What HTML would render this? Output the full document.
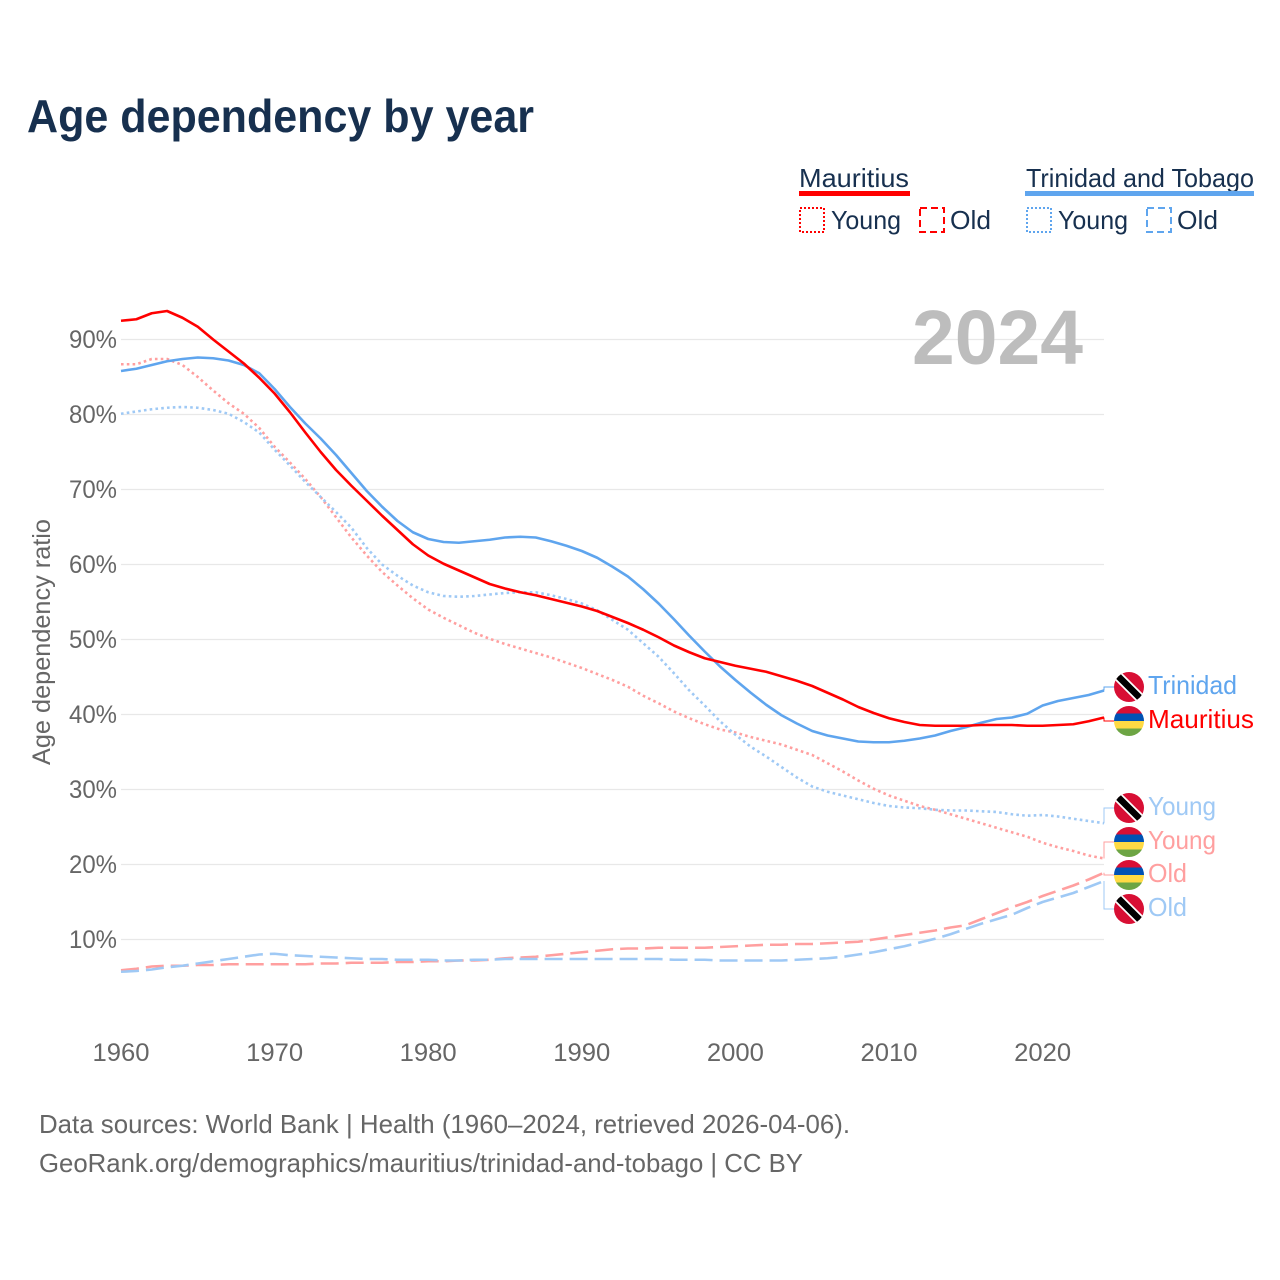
<!DOCTYPE html>
<html lang="en">
<head>
<meta charset="utf-8">
<title>Age dependency by year</title>
<style>
html,body{margin:0;padding:0;background:#fff;}
svg{display:block;font-family:"Liberation Sans",sans-serif;}
</style>
</head>
<body>
<svg id="chart" xmlns="http://www.w3.org/2000/svg" width="1280" height="1280" viewBox="0 0 1280 1280">
<defs>
<clipPath id="flag-clip"><circle cx="0" cy="0" r="15"/></clipPath>
<g id="flag-tt"><g clip-path="url(#flag-clip)">
<rect x="-15" y="-15" width="30" height="30" fill="#d80f34"/>
<line x1="-15" y1="-15" x2="15" y2="15" stroke="#fff" stroke-width="10"/>
<line x1="-15" y1="-15" x2="15" y2="15" stroke="#000" stroke-width="6.5"/>
</g></g>
<g id="flag-mu"><g clip-path="url(#flag-clip)">
<rect x="-15" y="-15" width="30" height="7.5" fill="#d80f34"/>
<rect x="-15" y="-7.5" width="30" height="7.5" fill="#0052b4"/>
<rect x="-15" y="0" width="30" height="7.5" fill="#ffda44"/>
<rect x="-15" y="7.5" width="30" height="7.5" fill="#6da544"/>
</g></g>
</defs>

<text x="27" y="132" font-size="46" font-weight="bold" fill="#17304f" textLength="507" lengthAdjust="spacingAndGlyphs">Age dependency by year</text>

<g font-size="26" fill="#17304f">
<text x="799" y="187" textLength="110" lengthAdjust="spacingAndGlyphs">Mauritius</text>
<rect x="799" y="191" width="111" height="5" fill="#ff0000"/>
<rect x="800" y="208" width="24" height="24" fill="none" stroke="#ff0000" stroke-width="2" stroke-dasharray="2 2"/>
<text x="831" y="229" textLength="70" lengthAdjust="spacingAndGlyphs">Young</text>
<rect x="920" y="208" width="24" height="24" fill="none" stroke="#ff0000" stroke-width="2" stroke-dasharray="7 4"/>
<text x="950" y="229" textLength="41" lengthAdjust="spacingAndGlyphs">Old</text>
<text x="1026" y="187" textLength="228" lengthAdjust="spacingAndGlyphs">Trinidad and Tobago</text>
<rect x="1025" y="191" width="229" height="5" fill="#5fa5ee"/>
<rect x="1027" y="208" width="24" height="24" fill="none" stroke="#5fa5ee" stroke-width="2" stroke-dasharray="2 2"/>
<text x="1058" y="229" textLength="70" lengthAdjust="spacingAndGlyphs">Young</text>
<rect x="1147" y="208" width="24" height="24" fill="none" stroke="#5fa5ee" stroke-width="2" stroke-dasharray="7 4"/>
<text x="1177" y="229" textLength="41" lengthAdjust="spacingAndGlyphs">Old</text>
</g>

<g id="grid"></g>
<g id="ticks" font-size="25" fill="#666"></g>
<text transform="translate(50,765) rotate(-90)" font-size="25" fill="#666" textLength="246" lengthAdjust="spacingAndGlyphs">Age dependency ratio</text>
<text x="912" y="364" font-size="77" font-weight="bold" fill="#bdbdbd" textLength="171" lengthAdjust="spacingAndGlyphs">2024</text>

<g id="series" fill="none" stroke-linejoin="round"></g>
<g id="labels"></g>

<g font-size="26" fill="#666">
<text x="39" y="1133" textLength="811" lengthAdjust="spacingAndGlyphs">Data sources: World Bank | Health (1960–2024, retrieved 2026-04-06).</text>
<text x="39" y="1172" textLength="764" lengthAdjust="spacingAndGlyphs">GeoRank.org/demographics/mauritius/trinidad-and-tobago | CC BY</text>
</g>
</svg>

<script>
const startYear = 1960;
const yTickValues = [10, 20, 30, 40, 50, 60, 70, 80, 90];
const xTickYears = [1960, 1970, 1980, 1990, 2000, 2010, 2020];

const mauritiusTotal = [92.5,92.7,93.5,93.8,92.9,91.7,90.0,88.4,86.8,84.9,82.8,80.3,77.6,75.0,72.6,70.5,68.5,66.5,64.6,62.7,61.2,60.1,59.2,58.3,57.4,56.8,56.3,55.9,55.4,54.9,54.4,53.8,53.0,52.2,51.3,50.3,49.2,48.3,47.5,47.0,46.5,46.1,45.7,45.1,44.5,43.8,42.9,42.0,41.0,40.2,39.5,39.0,38.6,38.5,38.5,38.5,38.6,38.6,38.6,38.5,38.5,38.6,38.7,39.1,39.6];
const trinidadTotal = [85.8,86.1,86.6,87.1,87.4,87.6,87.5,87.2,86.6,85.5,83.4,81.0,78.8,76.8,74.6,72.2,69.8,67.7,65.8,64.3,63.4,63.0,62.9,63.1,63.3,63.6,63.7,63.6,63.1,62.5,61.8,60.9,59.7,58.4,56.7,54.8,52.7,50.5,48.4,46.4,44.6,42.9,41.3,39.9,38.8,37.8,37.2,36.8,36.4,36.3,36.3,36.5,36.8,37.2,37.8,38.3,38.9,39.4,39.6,40.1,41.2,41.8,42.2,42.6,43.2];
const mauritiusYoung = [86.7,86.7,87.4,87.4,86.6,85.0,83.2,81.5,80.1,78.2,75.7,73.6,71.4,69.0,66.3,63.6,61.2,59.0,57.2,55.5,54.0,52.9,51.9,50.9,50.1,49.4,48.8,48.2,47.6,46.9,46.2,45.4,44.6,43.7,42.5,41.5,40.4,39.5,38.7,38.0,37.6,37.0,36.5,36.0,35.3,34.6,33.5,32.4,31.2,30.1,29.2,28.5,27.8,27.3,26.7,26.1,25.5,24.9,24.3,23.7,22.9,22.3,21.8,21.2,20.8];
const trinidadYoung = [80.1,80.4,80.7,80.9,81.0,80.9,80.6,80.1,79.0,77.6,75.3,73.2,71.0,69.0,67.0,64.9,62.2,60.0,58.5,57.2,56.3,55.8,55.7,55.8,56.0,56.2,56.3,56.3,55.9,55.4,54.8,53.9,52.6,51.3,49.5,47.7,45.5,43.2,41.2,39.1,37.3,35.7,34.4,33.0,31.6,30.4,29.7,29.2,28.7,28.2,27.8,27.6,27.5,27.3,27.2,27.2,27.1,27.0,26.7,26.5,26.6,26.4,26.1,25.8,25.5];
const mauritiusOld = [5.9,6.1,6.4,6.5,6.5,6.6,6.6,6.7,6.7,6.7,6.7,6.7,6.7,6.8,6.8,6.9,6.9,6.9,7.0,7.0,7.1,7.1,7.2,7.2,7.3,7.5,7.6,7.7,7.9,8.1,8.3,8.5,8.7,8.8,8.8,8.9,8.9,8.9,8.9,9.0,9.1,9.2,9.3,9.3,9.4,9.4,9.5,9.6,9.7,10.0,10.3,10.6,10.9,11.2,11.6,11.9,12.7,13.5,14.3,15.0,15.8,16.5,17.2,18.0,18.9];
const trinidadOld = [5.7,5.8,6.0,6.3,6.5,6.8,7.1,7.4,7.7,8.0,8.1,7.9,7.8,7.7,7.6,7.5,7.4,7.4,7.3,7.3,7.3,7.2,7.2,7.3,7.3,7.4,7.4,7.4,7.4,7.4,7.4,7.4,7.4,7.4,7.4,7.4,7.3,7.3,7.3,7.2,7.2,7.2,7.2,7.2,7.3,7.4,7.5,7.7,8.0,8.3,8.7,9.1,9.6,10.1,10.7,11.4,12.1,12.7,13.3,14.2,15.0,15.6,16.2,17.0,17.8];

const NS = 'http://www.w3.org/2000/svg';
function xScale(year){ return 121 + (year - 1960) * 15.36; }
function yScale(v){ return 939.5 - (v - 10) * 7.5; }
function make(tag, attrs, parent){
  const el = document.createElementNS(NS, tag);
  for (const k in attrs) el.setAttribute(k, attrs[k]);
  parent.appendChild(el);
  return el;
}

const grid = document.getElementById('grid');
const ticks = document.getElementById('ticks');
yTickValues.forEach(function(v){
  const line = make('line', {x1:121, x2:1104, y1:yScale(v), y2:yScale(v), stroke:'#e8e8e8', 'stroke-width':1.2}, grid);
  
  
  const t = make('text', {x:117, y:yScale(v) + 8.5, 'text-anchor':'end', textLength:48, lengthAdjust:'spacingAndGlyphs'}, ticks);
  
  
  t.textContent = v + '%';
});
xTickYears.forEach(function(y){
  const t = make('text', {x:xScale(y), y:1061, 'text-anchor':'middle', textLength:57, lengthAdjust:'spacingAndGlyphs'}, ticks);
  
  
  t.textContent = y;
});

function drawSeries(values, name, color, width, dash){
  const pts = values.map(function(v, i){ return xScale(startYear + i).toFixed(2) + ',' + yScale(v).toFixed(2); }).join(' ');
  const attrs = {points:pts, stroke:color, 'stroke-width':width};
  if (dash) attrs['stroke-dasharray'] = dash;
  const el = make('polyline', attrs, document.getElementById('series'));
  
  
}
drawSeries(mauritiusOld, 'line-mauritius-old', '#ff9f9f', 2.6, '18 7');
drawSeries(trinidadOld, 'line-trinidad-old', '#9fc9f5', 2.6, '18 7');
drawSeries(mauritiusYoung, 'line-mauritius-young', '#ff9f9f', 2.6, '2.6 3.2');
drawSeries(trinidadYoung, 'line-trinidad-young', '#9fc9f5', 2.6, '2.6 3.2');
drawSeries(trinidadTotal, 'line-trinidad-total', '#5fa5ee', 2.6, null);
drawSeries(mauritiusTotal, 'line-mauritius-total', '#ff0000', 2.6, null);

function drawLabel(values, slug, text, flag, flagY, color, lineColor, textWidth){
  const labels = document.getElementById('labels');
  const endY = yScale(values[values.length - 1]);
  const c = make('polyline', {points:'1104,' + endY.toFixed(2) + ' 1104,' + flagY + ' 1114,' + flagY, fill:'none', stroke:lineColor, 'stroke-width':1}, labels);
  
  
  const f = make('use', {href:'#flag-' + flag, transform:'translate(1129,' + flagY + ')'}, labels);
  
  
  const t = make('text', {x:1148, y:flagY + 7, 'font-size':26, fill:color, textLength:textWidth, lengthAdjust:'spacingAndGlyphs'}, labels);
  
  
  t.textContent = text;
}
drawLabel(trinidadTotal, 'trinidad-total', 'Trinidad', 'tt', 687, '#5fa5ee', '#5fa5ee', 89);
drawLabel(mauritiusTotal, 'mauritius-total', 'Mauritius', 'mu', 721, '#ff0000', '#ff0000', 106);
drawLabel(trinidadYoung, 'trinidad-young', 'Young', 'tt', 808, '#9fc9f5', '#9fc9f5', 68);
drawLabel(mauritiusYoung, 'mauritius-young', 'Young', 'mu', 842, '#ff9f9f', '#ff9f9f', 68);
drawLabel(mauritiusOld, 'mauritius-old', 'Old', 'mu', 875, '#ff9f9f', '#ff9f9f', 39);
drawLabel(trinidadOld, 'trinidad-old', 'Old', 'tt', 909, '#9fc9f5', '#9fc9f5', 39);
</script>
</body>
</html>
